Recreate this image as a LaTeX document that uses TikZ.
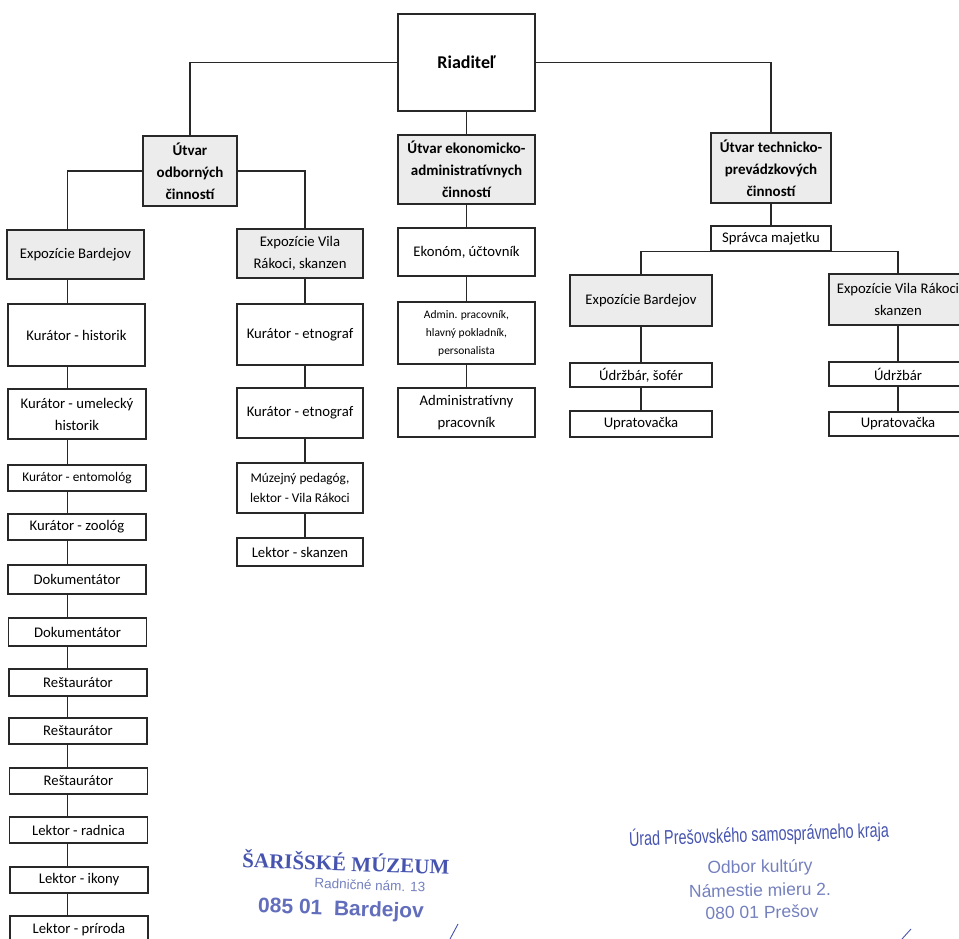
\documentclass[tikz,border=0pt]{standalone}
\usepackage{fontspec}
\setmainfont{Carlito}
\newfontfamily\stampserif{Liberation Serif}
\newfontfamily\stampsans{Liberation Sans}
\newfontfamily\stampnarrow[FakeStretch=0.72]{Liberation Sans}
\usepackage{xcolor}
\usepackage{tikz}
\definecolor{boxgray}{RGB}{236,236,236}
\definecolor{edge}{RGB}{40,40,40}
\definecolor{stampblue}{RGB}{70,84,176}
\definecolor{stamplight}{RGB}{116,128,190}
\tikzset{
  unit/.style={draw=edge, line width=1.8pt, fill=white, align=center, inner sep=1pt,
    font=\fontsize{14.7}{22}\selectfont},
  grayunit/.style={unit, fill=boxgray},
  head/.style={grayunit, font=\bfseries\fontsize{15}{22}\selectfont},
  conn/.style={draw=edge, line width=1.1pt},
  stamp/.style={inner sep=0pt, text=stamplight, font=\stampsans\fontsize{17.5}{17.5}\selectfont}
}

\begin{document}
\begin{tikzpicture}[x=1pt,y=-1pt]
\useasboundingbox (0,0) rectangle (959,939);

\node[unit, minimum width=137pt, minimum height=97pt, font=\bfseries\fontsize{18}{22}\selectfont] (riad) at (466.5,62.5) {Riaditeľ};
\node[head, minimum width=94pt, minimum height=70pt] (uod) at (190,171) {Útvar\\odborných\\činností};
\node[head, minimum width=137pt, minimum height=69pt] (uek) at (466.5,169.5) {Útvar ekonomicko-\\administratívnych\\činností};
\node[head, minimum width=120pt, minimum height=70pt] (utp) at (771,168) {Útvar technicko-\\prevádzkových\\činností};

\coordinate (colL) at (67.5,0);
\coordinate (colM) at (305,0);

\node[grayunit, minimum width=137pt, minimum height=49pt] (expB) at (75.5,254.5) {Expozície Bardejov};
\node[unit, minimum width=137pt, minimum height=62pt] (k1) at (76.5,335) {Kurátor - historik};
\node[unit, minimum width=138pt, minimum height=50pt] (k2) at (77,414) {Kurátor - umelecký\\historik};
\node[unit, minimum width=138pt, minimum height=26pt, font=\fontsize{13.3}{20}\selectfont] (k3) at (77,478) {Kurátor - entomológ};
\node[unit, minimum width=138pt, minimum height=26pt] (k4) at (77,527) {Kurátor - zoológ};
\node[unit, minimum width=138pt, minimum height=29pt] (d1) at (77,579.5) {Dokumentátor};
\node[unit, minimum width=138pt, minimum height=28pt] (d2) at (77.5,632) {Dokumentátor};
\node[unit, minimum width=138pt, minimum height=27pt] (r1) at (78,682.5) {Reštaurátor};
\node[unit, minimum width=138pt, minimum height=26pt] (r2) at (78,731) {Reštaurátor};
\node[unit, minimum width=138pt, minimum height=26pt] (r3) at (78.5,781) {Reštaurátor};
\node[unit, minimum width=138pt, minimum height=26pt] (l1) at (78.5,830) {Lektor - radnica};
\node[unit, minimum width=138pt, minimum height=26pt] (l2) at (79,880) {Lektor - ikony};
\node[unit, minimum width=138pt, minimum height=28pt] (l3) at (79,930) {Lektor - príroda};

\node[grayunit, minimum width=126pt, minimum height=49pt] (expV) at (300,253.5) {Expozície Vila\\Rákoci, skanzen};
\node[unit, minimum width=126pt, minimum height=61pt] (e1) at (300,334.5) {Kurátor - etnograf};
\node[unit, minimum width=126pt, minimum height=50pt] (e2) at (300,413) {Kurátor - etnograf};
\node[unit, minimum width=126pt, minimum height=50pt, font=\fontsize{13.3}{20}\selectfont] (mp) at (300,488) {Múzejný pedagóg,\\lektor - Vila Rákoci};
\node[unit, minimum width=126pt, minimum height=28pt] (ls) at (300,552) {Lektor - skanzen};

\node[unit, minimum width=137pt, minimum height=48pt] (ek) at (466.5,252) {Ekonóm, účtovník};
\node[unit, minimum width=137pt, minimum height=62pt, font=\fontsize{11.5}{18}\selectfont] (adm) at (466.5,333) {Admin. pracovník,\\hlavný pokladník,\\personalista};
\node[unit, minimum width=137pt, minimum height=49pt] (apr) at (466.5,412.5) {Administratívny\\pracovník};

\node[unit, minimum width=120pt, minimum height=25pt] (spr) at (771,238.5) {Správca majetku};
\node[grayunit, minimum width=142pt, minimum height=51pt] (expB2) at (641,300.5) {Expozície Bardejov};
\node[grayunit, minimum width=138pt, minimum height=51pt] (expV2) at (898,299.5) {Expozície Vila Rákoci\\skanzen};
\node[unit, minimum width=142pt, minimum height=24pt] (ud1) at (641,375) {Údržbár, šofér};
\node[unit, minimum width=142pt, minimum height=26pt] (up1) at (641,424) {Upratovačka};
\node[unit, minimum width=138pt, minimum height=24pt] (ud2) at (898,374) {Údržbár};
\node[unit, minimum width=138pt, minimum height=24pt] (up2) at (898,424) {Upratovačka};

\draw[conn] (riad.west) -| (uod.north);
\draw[conn] (riad.east) -| (utp.north);
\draw[conn] (riad) -- (uek);
\draw[conn] (uod.west) -| (colL |- expB.north);
\draw[conn] (uod.east) -| (colM |- expV.north);
\foreach \a/\b in {expB/k1,k1/k2,k2/k3,k3/k4,k4/d1,d1/d2,d2/r1,r1/r2,r2/r3,r3/l1,l1/l2,l2/l3}
  \draw[conn] (colL |- \a.south) -- (colL |- \b.north);
\foreach \a/\b in {expV/e1,e1/e2,e2/mp,mp/ls}
  \draw[conn] (colM |- \a.south) -- (colM |- \b.north);
\foreach \a/\b in {uek/ek,ek/adm,adm/apr,utp/spr,expB2/ud1,ud1/up1,expV2/ud2,ud2/up2}
  \draw[conn] (\a) -- (\b);
\draw[conn] (expB2.north) |- (spr.south) -| (expV2.north);

\node[stamp, text=stampblue, font=\stampserif\bfseries\fontsize{21}{21}\selectfont, rotate=-2] (mus1) at (346,862) {ŠARIŠSKÉ MÚZEUM};
\node[stamp, font=\stampsans\fontsize{13.5}{13.5}\selectfont, rotate=-2] (mus2) at (370,885) {Radničné nám. 13};
\node[stamp, text=stampblue!85, font=\stampsans\bfseries\fontsize{21}{21}\selectfont, rotate=-2] (mus3) at (341,910) {085 01\ \ Bardejov};
\draw[stampblue, line width=0.9pt] (450,939) -- (458,924);

\node[stamp, text=stampblue, font=\stampnarrow\fontsize{20}{20}\selectfont, rotate=2] (psk1) at (759,835) {Úrad Prešovského samosprávneho kraja};
\node[stamp, rotate=1] (psk2) at (760,868) {Odbor kultúry};
\node[stamp, rotate=1] (psk3) at (760,890) {Námestie mieru 2.};
\node[stamp, rotate=1] (psk4) at (762,912) {080 01 Prešov};
\draw[stampblue, line width=0.9pt] (902,939) -- (911,929);
\end{tikzpicture}
\end{document}
